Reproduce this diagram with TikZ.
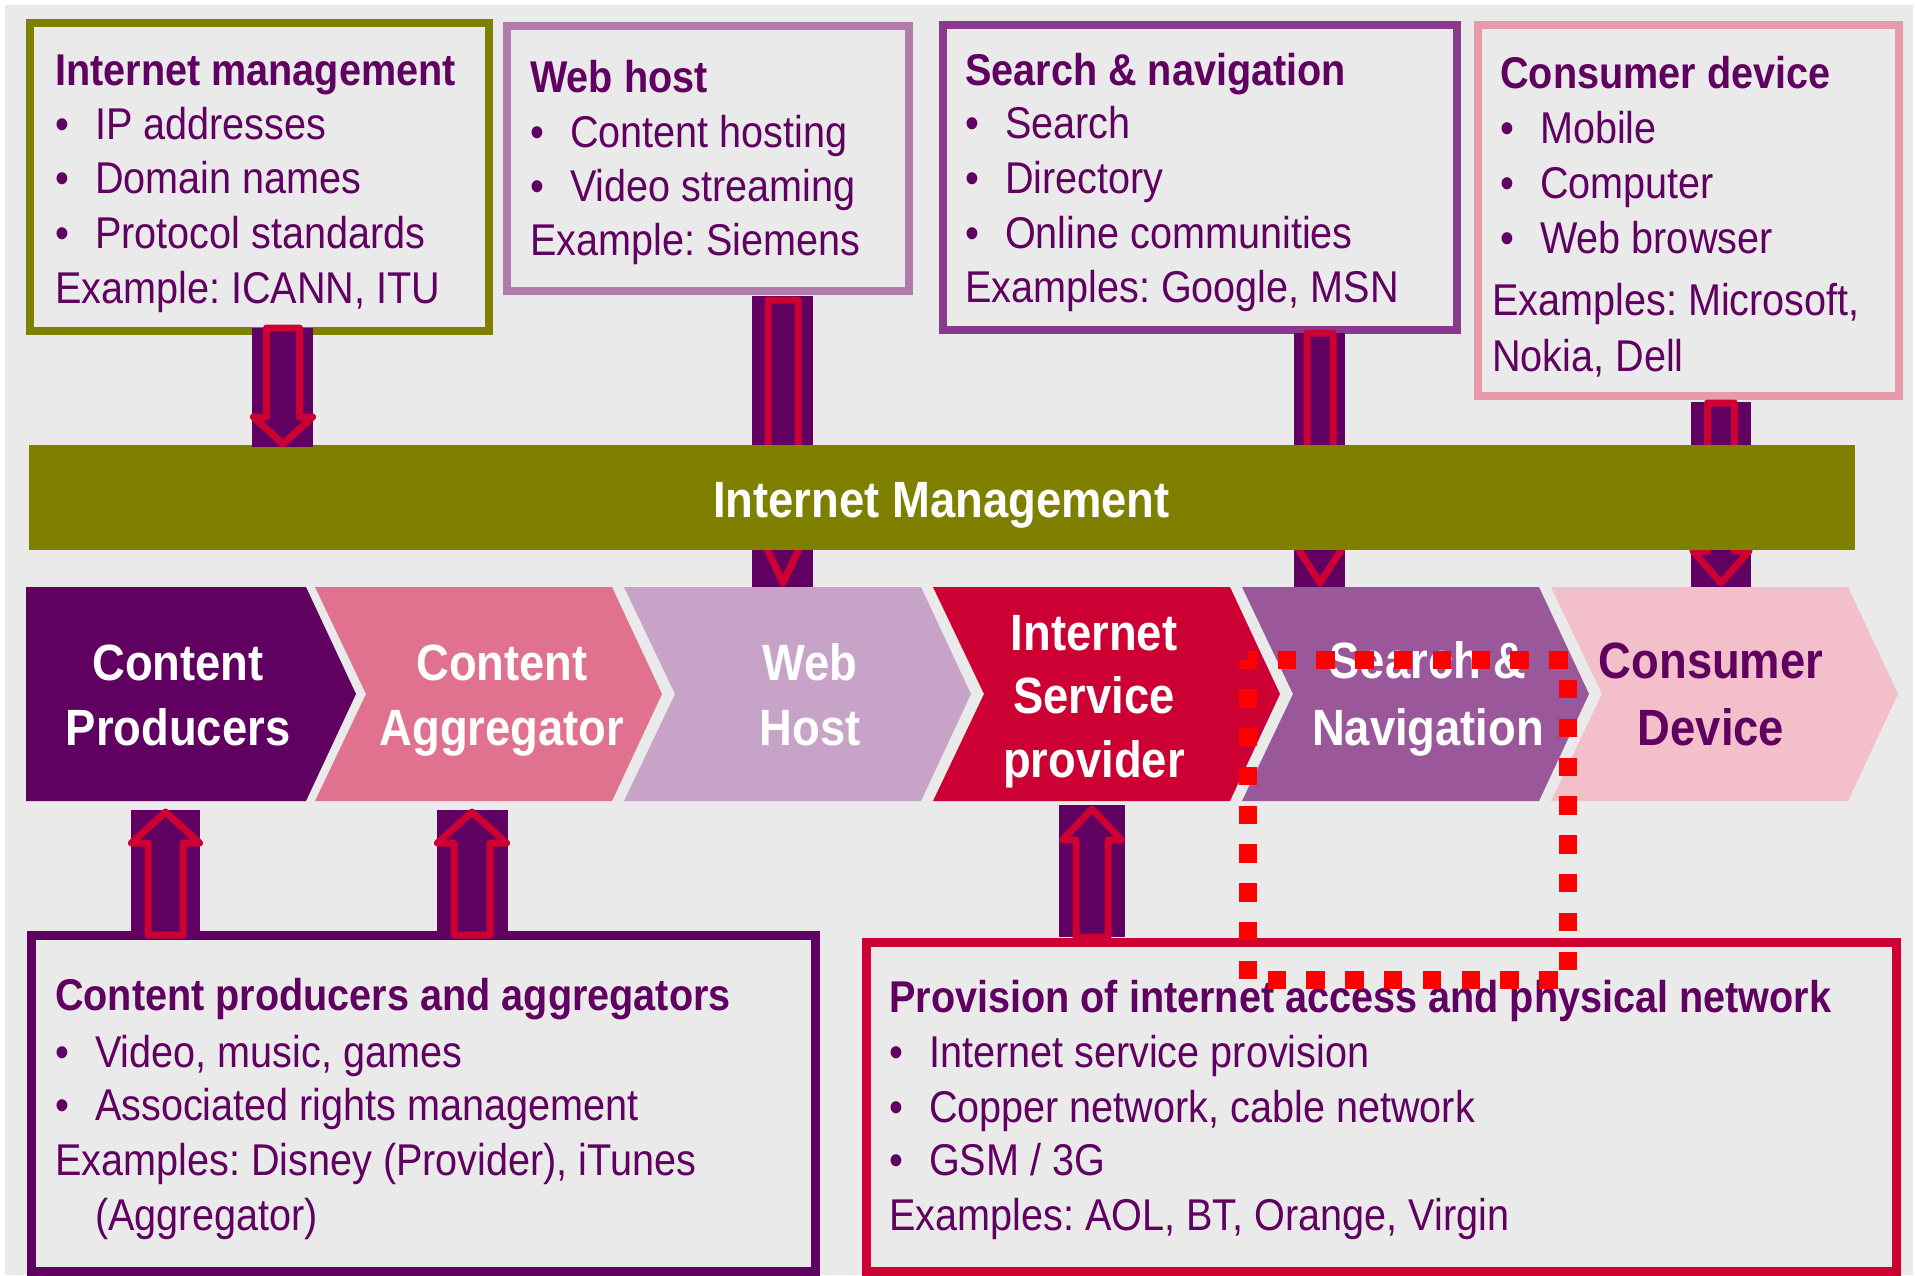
\documentclass[tikz,border=0pt]{standalone}
\usepackage{fontspec}
\setmainfont{Liberation Sans}[FakeStretch=0.89]
\frenchspacing
\definecolor{bg}{HTML}{EAEAEA}
\definecolor{imolive}{HTML}{808000}
\definecolor{dpurple}{HTML}{600060}
\definecolor{crim}{HTML}{CC0033}
\definecolor{lpurple}{HTML}{B07AAD}
\definecolor{mpurple}{HTML}{8A3A8C}
\definecolor{pinkb}{HTML}{E899AA}
\definecolor{cpink}{HTML}{E07290}
\definecolor{clil}{HTML}{C8A3C8}
\definecolor{cpur}{HTML}{9A589B}
\definecolor{clpink}{HTML}{F2BFCB}
\definecolor{dotred}{HTML}{FF0000}
\tikzset{
  box/.style={draw=#1, line width=8pt, inner sep=0pt, outer sep=0pt},
  barrow/.style={draw=crim, fill=dpurple, line width=7pt, line join=round},
  btxt/.style={anchor=base west, inner sep=0pt, text=dpurple, font=\fontsize{44.5}{50}\selectfont},
  btitle/.style={anchor=base west, inner sep=0pt, text=dpurple, font=\fontsize{44.5}{50}\selectfont\bfseries},
  ctxt/.style={anchor=base, inner sep=0pt, text=white, font=\fontsize{51}{60}\selectfont\bfseries},
}
\newcommand{\imarrow}[6]{%
  \draw[barrow] ({#1-#3},#2) -- ({#1+#3},#2) -- ({#1+#3},#4) -- ({#1+#5},#4) -- (#1,#6) -- ({#1-#5},#4) -- ({#1-#3},#4) -- cycle;}
\newcommand{\chev}[2]{%
  \fill[#2] (#1,587) -- ({#1+297},587) -- ({#1+347},694) -- ({#1+297},801) -- (#1,801) -- ({#1+51},694) -- cycle;}
\newcommand{\bitem}{\textbullet\hspace{26pt}}
\begin{document}
\begin{tikzpicture}[x=1pt,y=-1pt]
\useasboundingbox (0,0) rectangle (1915,1275);
\fill[bg] (5,5) rectangle (1913,1275);

% boxes
\node[box=imolive, minimum width=459pt, minimum height=308.5pt] (imbox) at (259.5,176.75) {};
\node[box=lpurple, minimum width=401.5pt, minimum height=265pt] (whbox) at (707.75,158) {};
\node[box=mpurple, minimum width=514pt, minimum height=305pt] (snbox) at (1200,177.5) {};
\node[box=pinkb, minimum width=421pt, minimum height=371pt] (cdbox) at (1688.5,210.5) {};
\node[box=dpurple, line width=9pt, minimum width=783.5pt, minimum height=336pt] (cpbox) at (423.25,1103) {};
\node[box=crim, line width=9pt, minimum width=1030pt, minimum height=329pt] (ispbox) at (1381.5,1106.5) {};

% down arrows passing behind the bar
\fill[dpurple] (752,296) rectangle (813,587);
\imarrow{783}{300}{15}{520}{29.5}{583}
\fill[dpurple] (1294,333) rectangle (1345,587);
\imarrow{1320}{333}{13}{544}{25}{583}
\fill[dpurple] (1691,402) rectangle (1751,587);
\imarrow{1721}{403}{13.5}{551}{28}{583}

% bar
\node[fill=imolive, inner sep=0pt, minimum width=1826pt, minimum height=105pt] (imbar) at (942,497.5) {};
\node[ctxt] (imbartxt) at (941.5,517) {Internet Management};

% arrow from internet management box
\fill[dpurple] (252,328) rectangle (313,447);
\imarrow{283}{328}{16.5}{417}{29.5}{444}

% chevrons
\fill[dpurple] (26,587) -- (306,587) -- (356,694) -- (306,801) -- (26,801) -- cycle;
\chev{315}{cpink}
\chev{624}{clil}
\chev{933}{crim}
\chev{1242}{cpur}
\chev{1551}{clpink}

\node[ctxt] (c1a) at (178,680) {Content};
\node[ctxt] (c1b) at (178,745) {Producers};
\node[ctxt] (c2a) at (502,680) {Content};
\node[ctxt] (c2b) at (502,745) {Aggregator};
\node[ctxt] (c3a) at (810,680) {Web};
\node[ctxt] (c3b) at (810,745) {Host};
\node[ctxt] (c4a) at (1094,650) {Internet};
\node[ctxt] (c4b) at (1094,713) {Service};
\node[ctxt] (c4c) at (1094,777) {provider};
\node[ctxt] (c5a) at (1428,678) {Search \&};
\node[ctxt] (c5b) at (1428,745) {Navigation};
\node[ctxt, text=dpurple] (c6a) at (1711,678) {Consumer};
\node[ctxt, text=dpurple] (c6b) at (1711,745) {Device};

% up arrows
\fill[dpurple] (131,810) rectangle (200,935);
\imarrow{165.5}{935}{17.5}{843}{34}{812}
\fill[dpurple] (437,810) rectangle (508,935);
\imarrow{472}{935}{18}{843}{34.5}{812}
\fill[dpurple] (1059,805) rectangle (1125,937);
\imarrow{1092}{937}{16}{840}{29.5}{809}

% box texts
\node[btitle] (t1) at (55,85) {Internet management};
\node[btxt] (t1a) at (55,139) {\bitem IP addresses};
\node[btxt] (t1b) at (55,193) {\bitem Domain names};
\node[btxt] (t1c) at (55,248) {\bitem Protocol standards};
\node[btxt] (t1d) at (55,303) {Example: ICANN, ITU};

\node[btitle] (t2) at (530,92) {Web host};
\node[btxt] (t2a) at (530,147) {\bitem Content hosting};
\node[btxt] (t2b) at (530,201) {\bitem Video streaming};
\node[btxt] (t2c) at (530,255) {Example: Siemens};

\node[btitle] (t3) at (965,85) {Search \& navigation};
\node[btxt] (t3a) at (965,138) {\bitem Search};
\node[btxt] (t3b) at (965,193) {\bitem Directory};
\node[btxt] (t3c) at (965,248) {\bitem Online communities};
\node[btxt] (t3d) at (965,302) {Examples: Google, MSN};

\node[btitle] (t4) at (1500,88) {Consumer device};
\node[btxt] (t4a) at (1500,143) {\bitem Mobile};
\node[btxt] (t4b) at (1500,198) {\bitem Computer};
\node[btxt] (t4c) at (1500,253) {\bitem Web browser};
\node[btxt] (t4d) at (1492,315) {Examples: Microsoft,};
\node[btxt] (t4e) at (1492,371) {Nokia, Dell};

\node[btitle] (t5) at (55,1010) {Content producers and aggregators};
\node[btxt] (t5a) at (55,1067) {\bitem Video, music, games};
\node[btxt] (t5b) at (55,1120) {\bitem Associated rights management};
\node[btxt] (t5c) at (55,1175) {Examples: Disney (Provider), iTunes};
\node[btxt] (t5d) at (95,1230) {(Aggregator)};

\node[btitle] (t6) at (889,1012) {Provision of internet access and physical network};
\node[btxt] (t6a) at (889,1067) {\bitem Internet service provision};
\node[btxt] (t6b) at (889,1122) {\bitem Copper network, cable network};
\node[btxt] (t6c) at (889,1175) {\bitem GSM / 3G};
\node[btxt] (t6d) at (889,1230) {Examples: AOL, BT, Orange, Virgin};

% red dotted highlight
\draw[dotred, line width=18pt, dash pattern=on 18.5pt off 20.3pt, dash phase=9.25pt]
  (1248,660) -- (1568,660) -- (1568,980) -- (1248,980) -- cycle;
\end{tikzpicture}
\end{document}
